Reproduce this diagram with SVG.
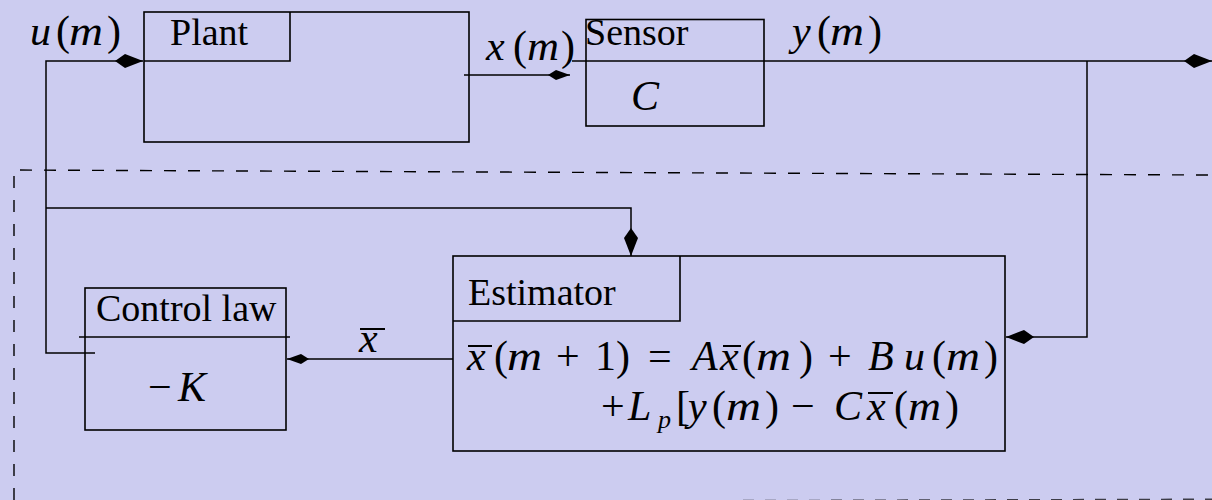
<svg xmlns="http://www.w3.org/2000/svg" width="1212" height="500" viewBox="0 0 1212 500">
<style>
.bx{fill:none;stroke:#000;stroke-width:1.6}
.ln{fill:none;stroke:#000;stroke-width:1.5}
.ds{fill:none;stroke:#000;stroke-width:1.4}
.t{font-family:'Liberation Serif','DejaVu Serif',serif;font-size:38px;fill:#000}
.m{font-family:'Liberation Serif','DejaVu Serif',serif;font-size:42px;fill:#000}
.i{font-style:italic}
.ob{stroke:#000;stroke-width:2}
</style>
<defs>
<marker id="ah" markerUnits="userSpaceOnUse" viewBox="0 0 28 14" refX="28" refY="7" markerWidth="28" markerHeight="14" orient="auto">
<path d="M0,7 L10,0 L28,7 L10,14 Z" fill="#000"/>
</marker>
<marker id="as" markerUnits="userSpaceOnUse" viewBox="0 0 22 10" refX="22" refY="5" markerWidth="22" markerHeight="10" orient="auto">
<path d="M0,5 L8,0 L22,5 L8,10 Z" fill="#000"/>
</marker>
</defs>
<rect x="0" y="0" width="1212" height="500" fill="#ccccf0"/>

<g id="boundary">
<path class="ds" d="M14,500 V170 L1212,175" stroke-dasharray="12 12"/>
<path class="ds" d="M655,500.8 L1212,499.2" stroke-dasharray="11 11" opacity="0.7"/>
</g>

<g id="connectors">
<path class="ln" d="M95,353 H46 V61 H143" marker-end="url(#ah)"/>
<path class="ln" d="M46,208 H631 V256" marker-end="url(#ah)"/>
<path class="ln" d="M464,75 H570" marker-end="url(#as)"/>
<path class="ln" d="M572,61 H1212" marker-end="url(#ah)"/>
<path class="ln" d="M1087,61 V337 H1006" marker-end="url(#ah)"/>
<path class="ln" d="M453,359 H287" marker-end="url(#as)"/>
</g>

<g id="labels">
<text class="m" y="45"><tspan class="i" x="30">u</tspan><tspan x="56">(</tspan><tspan class="i" x="69" textLength="34" lengthAdjust="spacingAndGlyphs">m</tspan><tspan x="107">)</tspan></text>
<text class="m" y="60"><tspan class="i" x="486">x</tspan><tspan x="513">(</tspan><tspan class="i" x="527" textLength="32" lengthAdjust="spacingAndGlyphs">m</tspan><tspan x="561">)</tspan></text>
<text class="m" y="45"><tspan class="i" x="792">y</tspan><tspan x="817">(</tspan><tspan class="i" x="830" textLength="34" lengthAdjust="spacingAndGlyphs">m</tspan><tspan x="868">)</tspan></text>
<text class="m i" x="359" y="352">x</text>
<line class="ob" x1="360" y1="329" x2="385" y2="329"/>
</g>

<g id="plant">
<rect class="bx" x="144" y="12" width="325" height="130"/>
<path class="bx" d="M144,61 H290 V12"/>
<text class="t" x="170" y="45">Plant</text>
</g>

<g id="sensor">
<rect class="bx" x="586" y="19.5" width="178" height="106.5"/>
<text class="t" x="585" y="45">Sensor</text>
<text class="m i" x="631" y="110">C</text>
</g>

<g id="estimator">
<rect class="bx" x="453" y="256" width="552" height="195"/>
<path class="bx" d="M453,321 H680 V256"/>
<text class="t" x="468" y="305">Estimator</text>
<text class="m" y="370"><tspan class="i" x="467">x</tspan><tspan x="494">(</tspan><tspan class="i" x="507" textLength="35" lengthAdjust="spacingAndGlyphs">m</tspan><tspan x="556">+</tspan><tspan x="595">1</tspan><tspan x="616">)</tspan><tspan x="648">=</tspan><tspan class="i" x="692">A</tspan><tspan class="i" x="720">x</tspan><tspan x="742">(</tspan><tspan class="i" x="756" textLength="35" lengthAdjust="spacingAndGlyphs">m</tspan><tspan x="799">)</tspan><tspan x="828">+</tspan><tspan class="i" x="868">B</tspan><tspan class="i" x="904">u</tspan><tspan x="932">(</tspan><tspan class="i" x="946" textLength="34" lengthAdjust="spacingAndGlyphs">m</tspan><tspan x="984">)</tspan></text>
<line class="ob" x1="468" y1="346" x2="492" y2="346"/>
<line class="ob" x1="723" y1="346" x2="741" y2="346"/>
<text class="m" y="420"><tspan x="601">+</tspan><tspan class="i" x="628">L</tspan><tspan class="i" x="658" y="428" font-size="26">p</tspan><tspan x="676" y="420">[</tspan><tspan class="i" x="688">y</tspan><tspan x="712">(</tspan><tspan class="i" x="726" textLength="35" lengthAdjust="spacingAndGlyphs">m</tspan><tspan x="765">)</tspan><tspan x="791">−</tspan><tspan class="i" x="834">C</tspan><tspan class="i" x="867">x</tspan><tspan x="894">(</tspan><tspan class="i" x="908" textLength="33" lengthAdjust="spacingAndGlyphs">m</tspan><tspan x="945">)</tspan></text>
<line class="ob" x1="868" y1="393" x2="893" y2="393"/>
</g>

<g id="control-law">
<rect class="bx" x="85" y="288" width="201" height="142"/>
<line class="bx" x1="79" y1="337" x2="290" y2="337"/>
<text class="t" x="96" y="321">Control law</text>
<text class="m" y="401"><tspan x="148">−</tspan><tspan class="i" x="178">K</tspan></text>
</g>
</svg>
